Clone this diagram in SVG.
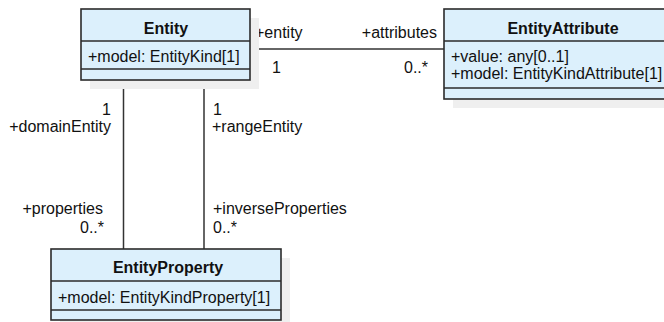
<svg xmlns="http://www.w3.org/2000/svg" width="664" height="322" viewBox="0 0 664 322">
  <style>
    .shadow { fill: #efefef; stroke: none; }
    .box { fill: #dcf0fc; stroke: #2b2b2b; stroke-width: 1.6; }
    .sep { stroke: #2b2b2b; stroke-width: 1.6; fill: none; }
    .edge { stroke: #333333; stroke-width: 1.5; fill: none; }
    text { font-family: "Liberation Sans", Arial, sans-serif; font-size: 16px; fill: #111111; }
    .title { font-weight: bold; text-anchor: middle; }
    .end { text-anchor: end; }
  </style>
  <rect width="664" height="322" fill="#ffffff"/>

  <!-- associations -->
  <g id="connectors">
    <g id="entity-attributes">
      <line class="edge" x1="250" y1="49" x2="444" y2="49"/>
      <text x="255" y="38">+entity</text>
      <text x="272" y="73">1</text>
      <text class="end" x="437" y="38">+attributes</text>
      <text class="end" x="428" y="73">0..*</text>
    </g>
    <g id="entity-properties">
      <line class="edge" x1="123.5" y1="80" x2="123.5" y2="249"/>
      <text class="end" x="111" y="115">1</text>
      <text class="end" x="111" y="131.5">+domainEntity</text>
      <text class="end" x="103" y="214">+properties</text>
      <text class="end" x="104" y="233">0..*</text>
    </g>
    <g id="entity-inverse-properties">
      <line class="edge" x1="204" y1="80" x2="204" y2="249"/>
      <text x="213" y="115">1</text>
      <text x="212" y="131.5">+rangeEntity</text>
      <text x="213" y="214">+inverseProperties</text>
      <text x="213" y="233">0..*</text>
    </g>
  </g>

  <!-- Entity class -->
  <g id="entity">
    <rect class="shadow" x="90" y="18" width="169" height="71"/>
    <rect class="box" x="81" y="9" width="169" height="71"/>
    <line class="sep" x1="81" y1="41" x2="250" y2="41"/>
    <line class="sep" x1="81" y1="69" x2="250" y2="69"/>
    <text class="title" x="166" y="34">Entity</text>
    <text x="88" y="62">+model: EntityKind[1]</text>
  </g>

  <!-- EntityAttribute class -->
  <g id="entity-attribute">
    <rect class="shadow" x="453" y="18" width="230" height="90"/>
    <rect class="box" x="444" y="9" width="238" height="90"/>
    <line class="sep" x1="444" y1="41" x2="682" y2="41"/>
    <line class="sep" x1="444" y1="88" x2="682" y2="88"/>
    <text class="title" x="563" y="34">EntityAttribute</text>
    <text x="451" y="62">+value: any[0..1]</text>
    <text x="451" y="79">+model: EntityKindAttribute[1]</text>
  </g>

  <!-- EntityProperty class -->
  <g id="entity-property">
    <rect class="shadow" x="60" y="258" width="230" height="71"/>
    <rect class="box" x="51" y="249" width="230" height="71"/>
    <line class="sep" x1="51" y1="281" x2="281" y2="281"/>
    <line class="sep" x1="51" y1="310" x2="281" y2="310"/>
    <text class="title" x="168" y="273">EntityProperty</text>
    <text x="58" y="303">+model: EntityKindProperty[1]</text>
  </g>
</svg>
